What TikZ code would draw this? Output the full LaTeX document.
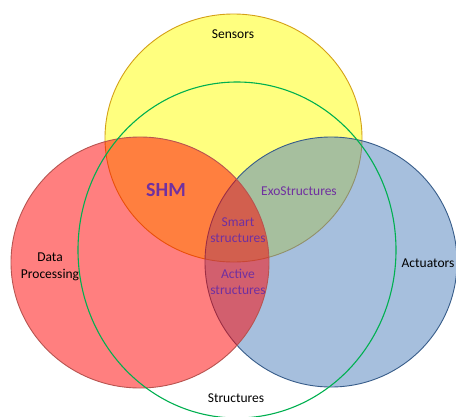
\documentclass[tikz,border=0pt]{standalone}
\usepackage{fontspec}
\setmainfont{Carlito}
\begin{document}
\begin{tikzpicture}[x=1pt,y=-1pt,
  setfill/.style={fill opacity=0.5,draw opacity=1,line width=0.9pt},
  lbl/.style={font=\fontsize{13.5}{16.5}\selectfont,align=center,inner sep=0pt},
  plbl/.style={lbl,text=purplet}]
\definecolor{yel}{HTML}{FFFF00}
\definecolor{yeledge}{HTML}{D4A017}
\definecolor{redf}{HTML}{FF0000}
\definecolor{rededge}{HTML}{B85450}
\definecolor{bluef}{HTML}{4F81BD}
\definecolor{blueedge}{HTML}{385D8A}
\definecolor{greenedge}{HTML}{00B050}
\definecolor{purplet}{HTML}{7030A0}
\useasboundingbox (0,0) rectangle (456,416);
\fill[white] (0,0) rectangle (456,416);
% the three filled sets
\filldraw[setfill,fill=yel,draw=yeledge] (233.5,138) ellipse [x radius=128.5,y radius=124];
\filldraw[setfill,fill=bluef,draw=blueedge] (331,262) ellipse [x radius=126,y radius=125];
\filldraw[setfill,fill=redf,draw=rededge] (140,262.5) ellipse [x radius=129,y radius=125.5];
% the structures set, outline only
\draw[greenedge,line width=1.1pt] (237,250) ellipse [x radius=159,y radius=168];
% labels
\node[lbl] (sens) at (233,34) {Sensors};
\node[lbl] (data) at (50,267) {Data\\Processing};
\node[lbl] (act) at (428,263) {Actuators};
\node[lbl] (str) at (236,398) {Structures};
\node[plbl,font=\fontsize{20}{24}\selectfont\bfseries] (shm) at (166,190) {SHM};
\node[plbl] (exo) at (299,191) {ExoStructures};
\node[plbl] (smart) at (238,230) {Smart\\structures};
\node[plbl] (active) at (238,282) {Active\\structures};
\end{tikzpicture}
\end{document}
